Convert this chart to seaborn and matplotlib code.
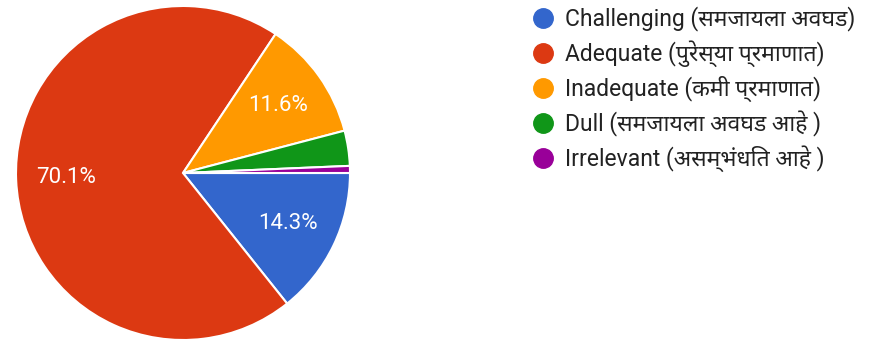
import matplotlib
matplotlib.use("Agg")
import matplotlib.pyplot as plt
from matplotlib import font_manager
from matplotlib.lines import Line2D
import seaborn as sns

# responses per option (Google Forms style pie)
labels = [
    "Challenging (समजायला अवघड)",
    "Adequate (पुरेस्या प्रमाणात)",
    "Inadequate (कमी प्रमाणात)",
    "Dull (समजायला अवघड आहे )",
    "Irrelevant (असम्भंधित आहे )",
]
counts = [21, 103, 17, 5, 1]
colors = ["#3366CC", "#DC3912", "#FF9900", "#109618", "#990099"]

sns.set_theme(style="white")

# pick an installed family that has Devanagari glyphs
names = {f.name for f in font_manager.fontManager.ttflist}
deva = None
for cand in ["Noto Sans Devanagari", "Noto Sans Devanagari UI", "Mukta", "Hind",
             "Ek Mukta", "Martel Sans", "Jaldi", "Amiko", "Poppins"]:
    if cand in names:
        deva = cand
        break
fams = ["Roboto"] + ([deva] if deva else []) + ["DejaVu Sans"]
plt.rcParams["font.family"] = fams

fig = plt.figure(figsize=(8.7, 3.43), dpi=100)
W, H = 870, 343
cx, cy, r = 183, 173, 167
ax = fig.add_axes([(cx - r) / W, (H - cy - r) / H, 2 * r / W, 2 * r / H])

pal = sns.color_palette(colors)


def pct(p):
    return f"{p:.1f}%" if p >= 5 else ""


wedges, texts, autotexts = ax.pie(
    counts, colors=pal, startangle=0, counterclock=False,
    autopct=pct, pctdistance=0.7,
    wedgeprops=dict(edgecolor="white", linewidth=1.5),
    textprops=dict(color="white", fontsize=16),
)
ax.set_xlim(-1, 1)
ax.set_ylim(-1, 1)
ax.set_aspect("equal")
ax.axis("off")

handles = [Line2D([], [], marker="o", linestyle="", markersize=14,
                  markerfacecolor=c, markeredgecolor=c) for c in colors]
fig.legend(handles, labels, loc="upper left",
           bbox_to_anchor=(518 / W, 1 + 5 / H), frameon=False,
           fontsize=16.5, labelspacing=0.385, handletextpad=0.35,
           handlelength=1.2, borderpad=0, labelcolor="#222222")

fig.savefig("out.png", dpi=100)
